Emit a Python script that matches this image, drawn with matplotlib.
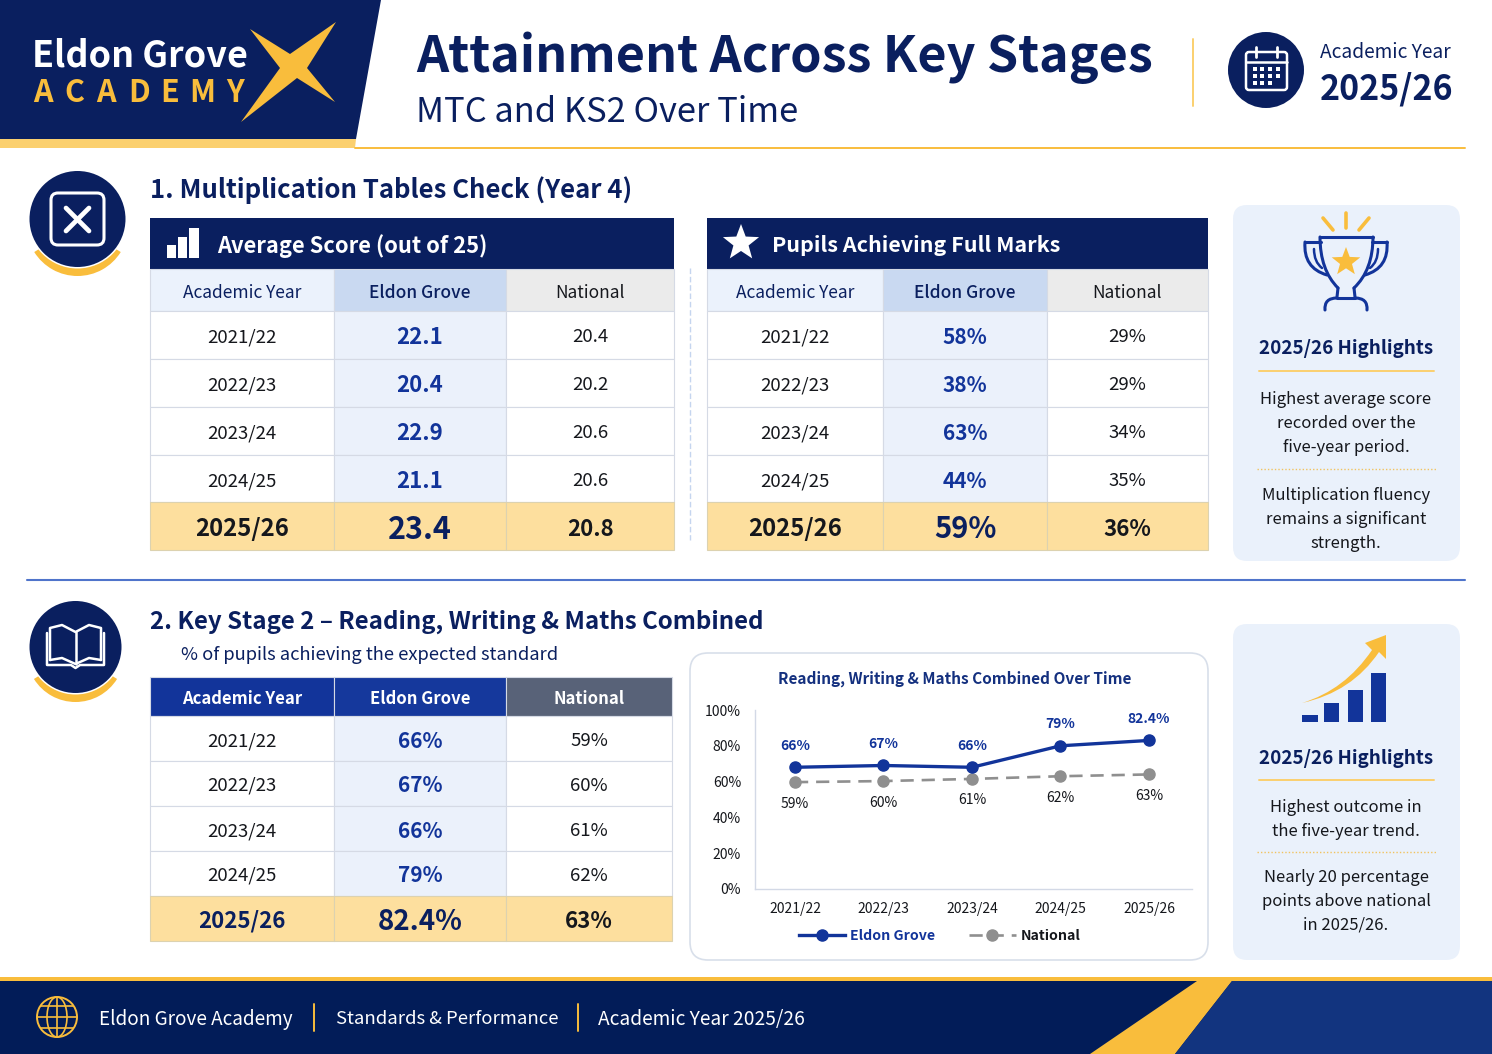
import numpy as np
import matplotlib
matplotlib.use("Agg")
import matplotlib.pyplot as plt
from matplotlib.patches import Circle, Ellipse, FancyBboxPatch, PathPatch, Polygon, Rectangle, Wedge
from matplotlib.path import Path

plt.rcParams['font.family'] = ['Noto Sans CJK JP', 'DejaVu Sans']

years = ["2021/22", "2022/23", "2023/24", "2024/25", "2025/26"]

mtc_school = [22.1, 20.4, 22.9, 21.1, 23.4]
mtc_national = [20.4, 20.2, 20.6, 20.6, 20.8]
full_school = [58, 38, 63, 44, 59]
full_national = [29, 29, 34, 35, 36]
ks2_school = [66, 67, 66, 79, 82.4]
ks2_national = [59, 60, 61, 62, 63]

# where the points actually sit on the reference's y axis (not quite the labels)
line_school = [68, 69, 68, 80, 83]
line_national = [59.7, 60.3, 61.5, 63, 64]
y_ticks = [0, 20, 40, 60, 80, 100]

NAVY = "#0a1f5f"
DEEP = "#021c58"
BLUE = "#12349a"
GOLD = "#f9bd3c"
PALE_GOLD = "#fddf9e"
PANEL = "#eaf1fb"
LINE = "#d5dae5"
INK = "#15171c"

fig = plt.figure(figsize=(14.92, 10.54), dpi=100, facecolor="white")
bg = fig.add_axes([0, 0, 1, 1])
bg.set_xlim(0, 1492)
bg.set_ylim(1054, 0)
bg.axis("off")


def txt(x, y, s, size, color=INK, weight="normal", ha="center", width=None):
    t = bg.text(x, y, s, fontsize=size, color=color, fontweight=weight, ha=ha, va="center_baseline", zorder=6)
    if width is not None:
        w = t.get_window_extent(fig.canvas.get_renderer()).width
        t.set_fontsize(size * width / w)
    return t


def rect(x0, y0, x1, y1, color, edge="none", lw=0, z=1):
    bg.add_patch(Rectangle((x0, y0), x1 - x0, y1 - y0, facecolor=color, edgecolor=edge, linewidth=lw, zorder=z))


def line(xs, ys, color="white", lw=2, z=5, **kw):
    bg.plot(xs, ys, color=color, lw=lw, zorder=z, solid_capstyle="round", solid_joinstyle="round", **kw)


def curve(pts, color=BLUE, lw=2.2, z=5):
    # start point, then control/end pairs
    codes = [Path.MOVETO] + [Path.CURVE3] * (len(pts) - 1)
    bg.add_patch(PathPatch(Path(pts, codes), facecolor="none", edgecolor=color, linewidth=lw, capstyle="round", zorder=z))


def star(cx, cy, r, color, z=5):
    a = np.deg2rad(np.arange(0, 360, 36) - 90)
    rr = np.where(np.arange(10) % 2 == 0, r, r * 0.42)
    bg.add_patch(Polygon(np.c_[cx + rr * np.cos(a), cy + rr * np.sin(a)], facecolor=color, edgecolor="none", zorder=z))


def rounded(x0, y0, x1, y1, r, face, edge="none", lw=0, z=1):
    bg.add_patch(FancyBboxPatch((x0 + r, y0 + r), x1 - x0 - 2 * r, y1 - y0 - 2 * r,
                                boxstyle=f"round,pad={r},rounding_size={r}",
                                facecolor=face, edgecolor=edge, linewidth=lw, zorder=z))


def badge(cx, cy, r):
    bg.add_patch(Wedge((cx, cy + 6), r + 3, 32, 148, width=8, facecolor=GOLD, edgecolor="none", zorder=2))
    bg.add_patch(Circle((cx, cy), r + 1.5, facecolor="white", edgecolor="none", zorder=3))
    bg.add_patch(Circle((cx, cy), r, facecolor=NAVY, edgecolor="none", zorder=4))


def table(xs, rows_y, left, mid, right, fmt, big_size, val_size, head_cols, head_text, head_weight,
          year_col=INK, year_size=17.2, head_size=12.5, head_dy=1.5):
    for i, name in enumerate(["Academic Year", "Eldon Grove", "National"]):
        rect(xs[i], rows_y[0], xs[i + 1], rows_y[1], head_cols[i], edge=LINE, lw=0.8, z=2)
        txt((xs[i] + xs[i + 1]) / 2, (rows_y[0] + rows_y[1]) / 2 + head_dy, name, head_size, head_text[i],
            weight=head_weight[i])
    n = len(left)
    for r in range(n):
        y0, y1 = rows_y[r + 1], rows_y[r + 2]
        last = r == n - 1
        for i in range(3):
            c = PALE_GOLD if last else ("#ebf1fb" if i == 1 else "white")
            rect(xs[i], y0, xs[i + 1], y1, c, edge="#dcd2b0" if last else LINE, lw=0.8, z=2)
        yc = (y0 + y1) / 2 + 0.5
        if last:
            txt((xs[0] + xs[1]) / 2, yc, left[r], year_size, year_col, weight="bold")
            txt((xs[1] + xs[2]) / 2, yc, fmt(mid[r]), big_size, NAVY, weight="bold")
            txt((xs[2] + xs[3]) / 2, yc, fmt(right[r]), 16, INK, weight="bold")
        else:
            txt((xs[0] + xs[1]) / 2, yc, left[r], 13.4)
            txt((xs[1] + xs[2]) / 2, yc, fmt(mid[r]), val_size, BLUE, weight="bold")
            txt((xs[2] + xs[3]) / 2, yc, fmt(right[r]), 13.4)


# header
bg.add_patch(Polygon([(0, 0), (381, 0), (356, 139), (0, 139)], facecolor=NAVY, edgecolor="none", zorder=2))
bg.add_patch(Polygon([(0, 139), (356, 139), (355, 148), (0, 148)], facecolor="#fbd06f", edgecolor="none", zorder=2))
line([355, 1465], [148, 148], GOLD, 1.4, z=2)
bg.add_patch(Polygon([(250, 29), (290, 54), (336, 22), (307, 68), (335, 102), (297, 78), (241, 122), (280, 68)],
                     facecolor=GOLD, edgecolor="none", zorder=3))
txt(32, 52, "Eldon Grove", 25, "white", "bold", "left", width=216)
for ch, x in zip("ACADEMY", [43, 74, 106, 139, 170, 202, 235]):
    txt(x, 90, ch, 22, GOLD, "bold")
txt(416, 52, "Attainment Across Key Stages", 38, NAVY, "bold", "left", width=738)
txt(416, 108.5, "MTC and KS2 Over Time", 24, NAVY, "normal", "left", width=382)
line([1193, 1193], [39, 106], "#fbd06f", 1.4)
bg.add_patch(Circle((1266, 70), 38, facecolor=NAVY, edgecolor="none", zorder=3))
rounded(1246, 52, 1287, 90, 3, "none", edge="white", lw=1.8, z=5)
line([1246, 1287], [62, 62], "white", 1.8)
line([1256, 1256], [47, 57], "white", 2)
line([1277, 1277], [47, 57], "white", 2)
for dx in [1255, 1262, 1270, 1278]:
    for dy in [69, 76, 83]:
        if not (dx == 1278 and dy == 83):
            rect(dx - 2, dy - 2, dx + 2, dy + 2, "white", z=5)
txt(1320, 50.5, "Academic Year", 15, NAVY, "normal", "left", width=131)
txt(1320, 86, "2025/26", 26, NAVY, "bold", "left", width=133)

# section 1
badge(77.5, 219, 48)
rounded(51, 193, 104, 245, 7, "none", edge="white", lw=2.2, z=5)
line([66, 89], [208, 231], "white", 3.4)
line([89, 66], [208, 231], "white", 3.4)
txt(150, 187, "1. Multiplication Tables Check (Year 4)", 19, NAVY, "bold", "left", width=482)

head_light = ["#ebf2fc", "#c9d9f1", "#ebebeb"]
rect(150, 218, 674, 269, NAVY, z=2)
for x0, x1, y0 in [(167, 176, 245), (178, 187, 237), (189, 199, 228)]:
    rect(x0, y0, x1, 258, "white", z=5)
txt(217, 244, "Average Score (out of 25)", 17, "white", "bold", "left", width=270)
table([150, 334, 506, 674], [269, 311, 359, 407, 455, 502, 550], years, mtc_school, mtc_national,
      lambda v: f"{v:.1f}", 22, 16, head_light, [NAVY, NAVY, INK], ["normal", "medium", "normal"])

rect(707, 218, 1208, 269, NAVY, z=2)
star(741, 243, 19, "white")
txt(772, 244, "Pupils Achieving Full Marks", 17, "white", "bold", "left", width=287)
table([707, 883, 1047, 1208], [269, 311, 359, 407, 455, 502, 550], years, full_school, full_national,
      lambda v: f"{v}%", 21, 15, head_light, [NAVY, NAVY, INK], ["normal", "medium", "normal"])
line([690, 690], [268, 540], "#c5d5ef", 1, linestyle=(0, (4, 2)))

# highlights 1
rounded(1233, 205, 1460, 561, 14, PANEL)
line([1346, 1346], [213, 228], GOLD, 2.6)
line([1323, 1333], [218, 230], GOLD, 2.6)
line([1369, 1359], [218, 230], GOLD, 2.6)
line([1320, 1373], [237, 237], BLUE, 2.2)
curve([(1320, 237), (1320, 270), (1338, 288)])
curve([(1373, 237), (1373, 270), (1354, 288)])
line([1338, 1337], [288, 297], BLUE, 2.2)
line([1354, 1355], [288, 297], BLUE, 2.2)
line([1321, 1305], [242, 242], BLUE, 2.2)
line([1372, 1387], [242, 242], BLUE, 2.2)
curve([(1305, 242), (1303, 268), (1327, 275)])
curve([(1387, 242), (1389, 268), (1365, 275)])
curve([(1314, 249), (1314, 262), (1322, 268)], lw=1.8)
curve([(1378, 249), (1378, 262), (1370, 268)], lw=1.8)
curve([(1325, 310), (1324, 298), (1337, 298)])
curve([(1367, 310), (1368, 298), (1355, 298)])
line([1337, 1355], [298, 298], BLUE, 2.2)
star(1346, 262, 15, GOLD)
txt(1346, 347, "2025/26 Highlights", 14.5, NAVY, "bold", width=175)
line([1259, 1434], [371, 371], "#fbd06f", 1.4)
for y, s in zip([397, 421, 445], ["Highest average score", "recorded over the", "five-year period."]):
    txt(1346, y, s, 12, INK)
line([1257, 1437], [469, 469], "#f1c35f", 1, linestyle=(0, (1, 1.5)))
for y, s in zip([494, 518, 542], ["Multiplication fluency", "remains a significant", "strength."]):
    txt(1346, y, s, 12, INK)

line([27, 1465], [579.5, 579.5], "#4f74cb", 1.5)

# section 2
badge(75.5, 647, 46)
book = dict(color="white", lw=1.8)
line([50, 50, 62, 75.5, 89, 101, 101], [660, 628, 625, 632, 625, 628, 660], **book)
line([50, 62, 75.5, 89, 101], [660, 658, 664, 658, 660], **book)
line([75.5, 75.5], [632, 664], **book)
line([47, 47, 71, 75.5, 80, 104, 104], [633, 665, 665, 668, 665, 665, 633], **book)
txt(150, 619, "2. Key Stage 2 \u2013 Reading, Writing & Maths Combined", 19, NAVY, "bold", "left", width=614)
txt(181, 652.5, "% of pupils achieving the expected standard", 14, NAVY, "normal", "left", width=377)
table([150, 334, 506, 672], [677, 716, 761, 806, 851, 896, 941], years, ks2_school, ks2_national,
      lambda v: f"{v:g}%", 20, 15, [BLUE, "#15389c", "#586278"], ["white", "white", "white"],
      ["bold", "bold", "bold"], year_col=NAVY, year_size=16, head_size=12, head_dy=0)

rounded(690, 653, 1208, 960, 18, "white", edge="#d8dfea", lw=1.2)
txt(955, 677, "Reading, Writing & Maths Combined Over Time", 12, "#14307f", "bold", width=354)

# highlights 2
rounded(1233, 624, 1460, 960, 14, PANEL)
for x0, x1, y0 in [(1302, 1318, 715), (1324, 1339, 703), (1348, 1363, 690), (1371, 1386, 673)]:
    rect(x0, y0, x1, 722, BLUE, z=5)
arrow = Path([(1302, 703), (1345, 690), (1372, 650), (1365, 643), (1386, 635), (1386, 659), (1379, 652),
              (1352, 692), (1302, 703), (1302, 703)],
             [Path.MOVETO, Path.CURVE3, Path.CURVE3, Path.LINETO, Path.LINETO, Path.LINETO, Path.LINETO,
              Path.CURVE3, Path.CURVE3, Path.CLOSEPOLY])
bg.add_patch(PathPatch(arrow, facecolor=GOLD, edgecolor="none", zorder=5))
txt(1346, 757, "2025/26 Highlights", 14.5, NAVY, "bold", width=175)
line([1259, 1434], [780, 780], "#fbd06f", 1.4)
for y, s in zip([806, 829], ["Highest outcome in", "the five-year trend."]):
    txt(1346, y, s, 12, INK)
line([1257, 1437], [852, 852], "#f1c35f", 1, linestyle=(0, (1, 1.5)))
for y, s in zip([875, 899, 923], ["Nearly 20 percentage", "points above national", "in 2025/26."]):
    txt(1346, y, s, 12, INK)

# footer
rect(0, 977, 1492, 981, GOLD, z=2)
rect(0, 981, 1492, 1054, DEEP, z=2)
bg.add_patch(Polygon([(1197, 981), (1232, 981), (1175, 1054), (1090, 1054)], facecolor=GOLD, edgecolor="none", zorder=3))
bg.add_patch(Polygon([(1232, 981), (1492, 981), (1492, 1054), (1175, 1054)], facecolor="#12347f", edgecolor="none", zorder=3))
bg.add_patch(Circle((57, 1017), 20, facecolor="none", edgecolor=GOLD, linewidth=1.4, zorder=5))
bg.add_patch(Ellipse((57, 1017), 20, 40, facecolor="none", edgecolor=GOLD, linewidth=1.2, zorder=5))
line([37, 77], [1017, 1017], GOLD, 1.2)
line([57, 57], [997, 1037], GOLD, 1.2)
line([41, 73], [1006, 1006], GOLD, 1.2)
line([41, 73], [1028, 1028], GOLD, 1.2)
txt(99, 1016.5, "Eldon Grove Academy", 14, "white", "normal", "left", width=193)
line([314, 314], [1004, 1031], GOLD, 1.4)
txt(336, 1016.5, "Standards & Performance", 14, "white", "normal", "left", width=222)
line([578, 578], [1004, 1031], GOLD, 1.4)
txt(598, 1016.5, "Academic Year 2025/26", 14, "white", "normal", "left", width=207)

# line chart, placed on the card by its pixel box
ax = fig.add_axes([755 / 1492, (1054 - 889) / 1054, (1192 - 755) / 1492, (889 - 710) / 1054], zorder=2)
ax.patch.set_alpha(0)
pos = np.arange(len(years))
ax.plot(pos, line_school, color=BLUE, lw=2.4, marker="o", ms=8, label="Eldon Grove", zorder=3)
ax.plot(pos, line_national, color="#8f8f8f", lw=1.9, ls=(0, (5, 3)), marker="o", ms=8, label="National", zorder=2)
for i, v in enumerate(ks2_school):
    ax.annotate(f"{v:g}%", (i, line_school[i]), xytext=(0, 15.5), textcoords="offset points", ha="center",
                va="center", fontsize=10, color=BLUE, fontweight="bold")
for i, v in enumerate(ks2_national):
    ax.annotate(f"{v}%", (i, line_national[i]), xytext=(0, -15.5), textcoords="offset points", ha="center",
                va="center", fontsize=10, color=INK)
ax.set_xlim(-0.452, 4.486)
ax.set_ylim(0, 100)
ax.set_xticks(pos, years)
ax.set_yticks(y_ticks, [f"{v}%" for v in y_ticks])
ax.tick_params(length=0, labelsize=10, colors=INK)
ax.tick_params(axis="y", pad=10)
ax.tick_params(axis="x", pad=9)
for side in ["top", "right"]:
    ax.spines[side].set_visible(False)
for side in ["left", "bottom"]:
    ax.spines[side].set_color("#d3d9e6")
    ax.spines[side].set_linewidth(1)
leg = ax.legend(loc="center", bbox_to_anchor=(0.423, -0.263), ncols=2, frameon=False,
                handlelength=3.25, columnspacing=2.4, handletextpad=0.35, prop=dict(size=10.2, weight="bold"))
leg.get_texts()[0].set_color(BLUE)
leg.get_texts()[1].set_color(INK)

fig.savefig("out.png", dpi=100, facecolor="white")
